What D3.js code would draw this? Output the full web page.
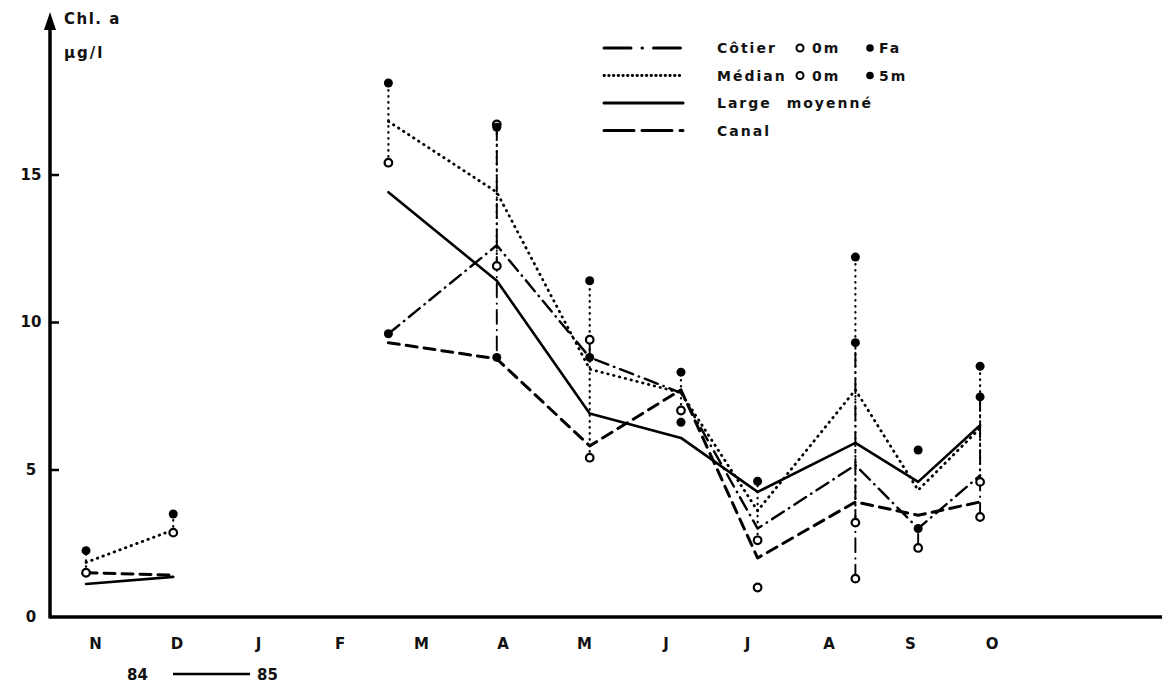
<!DOCTYPE html>
<html>
<head>
<meta charset="utf-8">
<script src="https://cdn.jsdelivr.net/npm/d3@7"></script>
<style>
  html, body { margin: 0; padding: 0; background: #fff; }
  svg text { font-family: "DejaVu Sans", sans-serif; font-weight: bold; fill: #111; }
</style>
</head>
<body>
<svg id="chart" width="1167" height="696"></svg>
<script>
// ---- data ----
const months = ["N","D","J","F","M","A","M","J","J","A","S","O"];
// sampling positions in month units (0 = Nov 84)
const samplePos = [-0.11, 0.96, 3.60, 4.93, 6.07, 7.19, 8.13, 9.33, 10.10, 10.86];
// index where the winter gap breaks the lines
const gapIndex = 2;
const cotier  = [null, null, 9.6, 12.6, 8.8, 7.6, 3.0, 5.15, 3.0, 4.8];
const median  = [1.85, 2.95, 16.8, 14.4, 8.4, 7.6, 3.6, 7.7, 4.3, 6.4];
const large   = [1.12, 1.36, 14.4, 11.4, 6.9, 6.07, 4.24, 5.9, 4.58, 6.5];
const canal   = [1.5, 1.42, 9.3, 8.75, 5.8, 7.7, 2.0, 3.9, 3.45, 3.9];
// point measurements
const median5m = [2.25, 3.49, 18.1, 16.6, 11.4, 8.3, 4.6, 12.2, 5.66, 8.5];
const median0m = [1.5, 2.86, 15.4, 11.9, 5.4, 7.0, 2.6, 3.2, null, 4.58];
const cotierFa = [null, null, 9.6, 8.8, 8.8, 6.6, null, 9.3, 3.0, 7.46];
const cotier0m = [null, null, null, 16.7, 9.4, null, 1.0, 1.3, 2.34, 3.39];
const yTicks = [0, 5, 10, 15];
const legendNames = ["Côtier", "Médian", "Large moyenné", "Canal"];
const legendDepths = [["0m", "Fa"], ["0m", "5m"], null, null];

// ---- scales ----
const svg = d3.select("#chart");
const x = d3.scaleLinear().domain([0, 11]).range([95, 991.5]);
const y = d3.scaleLinear().domain([0, 15]).range([617, 174.5]);

const styles = {
  cotier: {dash: "14,6,0.5,6", w: 2.4},
  median: {dash: "0.5,5.5", w: 2.8},
  large:  {dash: null, w: 2.6},
  canal:  {dash: "11,7", w: 3}
};

// ---- axes ----
const ax = 50;
svg.append("line").attr("x1", ax).attr("x2", 1162).attr("y1", y(0)).attr("y2", y(0))
  .attr("stroke", "#000").attr("stroke-width", 3.5);
svg.append("line").attr("x1", ax).attr("x2", ax).attr("y1", y(0) + 1.5).attr("y2", 28)
  .attr("stroke", "#000").attr("stroke-width", 3.5);
svg.append("path").attr("d", `M${ax},12 L${ax-6},30 L${ax+6},30 Z`).attr("fill", "#000");

const yAxis = d3.axisLeft(y).tickValues(yTicks).tickSize(-9).tickPadding(19).tickFormat(d3.format("d"));
const gy = svg.append("g").attr("transform", `translate(${ax},0)`).call(yAxis);
gy.select(".domain").remove();
gy.selectAll(".tick line").attr("stroke", "#000").attr("stroke-width", 2.5)
  .filter(d => d === 0).remove();
gy.selectAll(".tick text").attr("text-anchor", "middle").attr("font-size", 15)
  .style("font-family", "DejaVu Sans").style("font-weight", "bold").attr("fill", "#111");

const xAxis = d3.axisBottom(x).tickValues(d3.range(months.length)).tickSize(0).tickPadding(21)
  .tickFormat(i => months[i]);
const gx = svg.append("g").attr("transform", `translate(0,${y(0)})`).call(xAxis);
gx.select(".domain").remove();
gx.selectAll(".tick text").attr("font-size", 15)
  .style("font-family", "DejaVu Sans").style("font-weight", "bold").attr("fill", "#111");

// axis titles
svg.append("text").attr("x", 64).attr("y", 24).attr("font-size", 15).attr("letter-spacing", 1.5).text("Chl. a");
svg.append("text").attr("x", 64).attr("y", 58).attr("font-size", 15).attr("letter-spacing", 2).text("µg/l");
// period
svg.append("text").attr("x", 127).attr("y", 680).attr("font-size", 15).text("84");
svg.append("line").attr("x1", 173).attr("x2", 250).attr("y1", 674).attr("y2", 674)
  .attr("stroke", "#000").attr("stroke-width", 2.5);
svg.append("text").attr("x", 257).attr("y", 680).attr("font-size", 15).text("85");

// ---- lines ----
function pts(values) {
  const p = values.map((v, i) => ({t: samplePos[i], v}));
  p.splice(gapIndex, 0, {t: null, v: null});
  return p;
}
const line = d3.line().defined(d => d.v != null).x(d => x(d.t)).y(d => y(d.v));
function drawLine(values, st) {
  svg.append("path").datum(pts(values)).attr("d", line)
    .attr("fill", "none").attr("stroke", "#000").attr("stroke-width", st.w)
    .attr("stroke-linecap", "round").attr("stroke-linejoin", "round")
    .attr("stroke-dasharray", st.dash);
}
drawLine(large, styles.large);
drawLine(canal, styles.canal);
drawLine(cotier, styles.cotier);
drawLine(median, styles.median);

// vertical ranges between depths
function drawRanges(a, b, st) {
  samplePos.forEach((t, i) => {
    if (a[i] == null || b[i] == null) return;
    svg.append("line").attr("x1", x(t)).attr("x2", x(t)).attr("y1", y(a[i])).attr("y2", y(b[i]))
      .attr("stroke", "#000").attr("stroke-width", st.w * 0.8).attr("stroke-linecap", "round")
      .attr("stroke-dasharray", st.dash);
  });
}
drawRanges(median0m, median5m, styles.median);
drawRanges(cotier0m, cotierFa, styles.cotier);

// markers
function drawMarkers(values, filled) {
  svg.append("g").selectAll("circle")
    .data(values.map((v, i) => ({t: samplePos[i], v})).filter(d => d.v != null))
    .join("circle")
    .attr("cx", d => x(d.t)).attr("cy", d => y(d.v))
    .attr("r", filled ? 4.5 : 3.8)
    .attr("fill", filled ? "#000" : "#fff")
    .attr("stroke", "#000").attr("stroke-width", filled ? 0 : 2.2);
}
drawMarkers(median0m, false);
drawMarkers(cotier0m, false);
drawMarkers(median5m, true);
drawMarkers(cotierFa, true);

// ---- legend ----
const legendDash = ["27,11,0.5,11", "0.5,4.2", null, "30,8"];
const lg = svg.append("g");
legendNames.forEach((name, i) => {
  const ly = 48 + i * 27.5;
  lg.append("line").attr("x1", 604).attr("x2", 683).attr("y1", ly).attr("y2", ly)
    .attr("stroke", "#000").attr("stroke-width", i === 1 ? 2.8 : 3)
    .attr("stroke-linecap", "round").attr("stroke-dasharray", legendDash[i]);
  lg.append("text").attr("x", 717).attr("y", ly + 5).attr("font-size", 14)
    .attr("letter-spacing", 2).attr("word-spacing", 8).text(name);
  const dep = legendDepths[i];
  if (dep) {
    lg.append("circle").attr("cx", 800).attr("cy", ly).attr("r", 3.5)
      .attr("fill", "#fff").attr("stroke", "#000").attr("stroke-width", 2);
    lg.append("text").attr("x", 812).attr("y", ly + 5).attr("font-size", 14).attr("letter-spacing", 2).text(dep[0]);
    lg.append("circle").attr("cx", 870).attr("cy", ly).attr("r", 3.8).attr("fill", "#000");
    lg.append("text").attr("x", 879).attr("y", ly + 5).attr("font-size", 14).attr("letter-spacing", 2).text(dep[1]);
  }
});
</script>
</body>
</html>
